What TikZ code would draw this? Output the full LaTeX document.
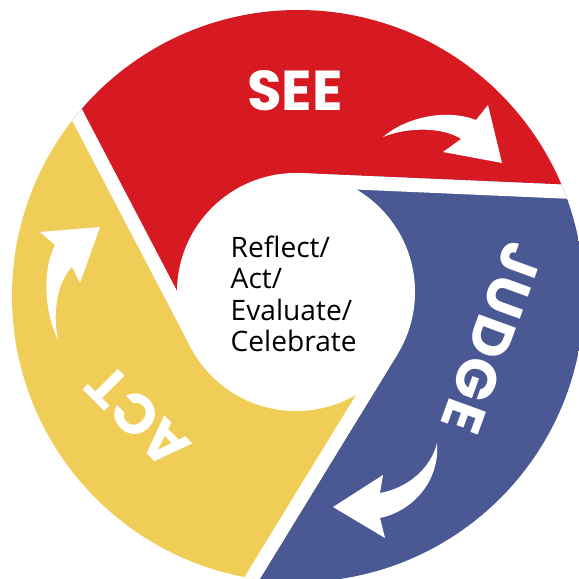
\documentclass[tikz,border=0pt]{standalone}
\usepackage{fontspec}
\setmainfont{Open Sans}
\newfontfamily\headfont{Poppins}
\usetikzlibrary{calc}
\definecolor{seered}{RGB}{215,26,33}
\definecolor{judgeblue}{RGB}{74,89,148}
\definecolor{actyellow}{RGB}{240,205,86}
\begin{document}
\begin{tikzpicture}[x=0.01cm, y=0.01cm,
		stagelabel/.style={text=white, inner sep=0pt, font=\headfont\bfseries\fontsize{16}{16}\selectfont},
		swoosh/.style={fill=white, draw=none},
		gapband/.style={white, line width=0.14cm, line cap=butt}]
	\useasboundingbox (-298,-283) rectangle (281,296);
	\coordinate (O) at (0,0);
	\coordinate (W) at (-2,4);
	\coordinate (tsee) at ($(W)+(87.5:119)$);
	\coordinate (tact) at ($(W)+(207.6:119)$);
	\coordinate (tjudge) at ($(W)+(328.5:119)$);

	\begin{scope}
		\clip (O) circle (286);
		\fill[seered] (tsee) -- ++(-2.5:400) -- (60:700) -- ($(tact)+(117.6:400)$) -- (tact) -- (W) -- cycle;
		\fill[judgeblue] (tjudge) -- ++(238.5:400) -- (-60:700) -- ($(tsee)+(-2.5:400)$) -- (tsee) -- (W) -- cycle;
		\fill[actyellow] (tact) -- ++(117.6:400) -- (180:700) -- ($(tjudge)+(238.5:400)$) -- (tjudge) -- (W) -- cycle;
		\draw[gapband] ($(tsee)+(267.5:7)$) -- ++(-2.5:400);
		\draw[gapband] ($(tact)+(27.6:7)$) -- ++(117.6:400);
		\draw[gapband] ($(tjudge)+(148.5:7)$) -- ++(238.5:400);
	\end{scope}
	\fill[white] (W) circle (119);

	\fill[swoosh] (85,159) .. controls (107,178) and (147,188) .. (178,176) -- (190,191) -- (204,133) -- (145,144) -- (163,157) .. controls (147,168) and (112,170) .. (85,159) -- cycle;
	\fill[swoosh] (139,-147) .. controls (142,-185) and (115,-215) .. (82,-222) -- (87,-242) -- (35,-211) -- (85,-179) -- (82,-197) .. controls (110,-192) and (133,-172) .. (139,-147) -- cycle;
	\fill[swoosh] (-240,-44) .. controls (-256,-10) and (-254,30) .. (-243,51) -- (-258,64) -- (-198,69) -- (-218,13) -- (-226,29) .. controls (-240,15) and (-246,-15) .. (-240,-44) -- cycle;

	\node[stagelabel] (see) at (-3,205) {SEE};
	\node[stagelabel, rotate=-110] (judge) at (194,-42) {\addfontfeature{LetterSpace=5}JUDGE};
	\node[stagelabel, rotate=135] (act) at (-160,-121) {ACT};
	\node[anchor=base west, align=left, inner sep=0pt, font=\fontsize{8}{9}\selectfont] (core) at (-68,-56) {Reflect/\\Act/\\Evaluate/\\Celebrate};
\end{tikzpicture}
\end{document}
